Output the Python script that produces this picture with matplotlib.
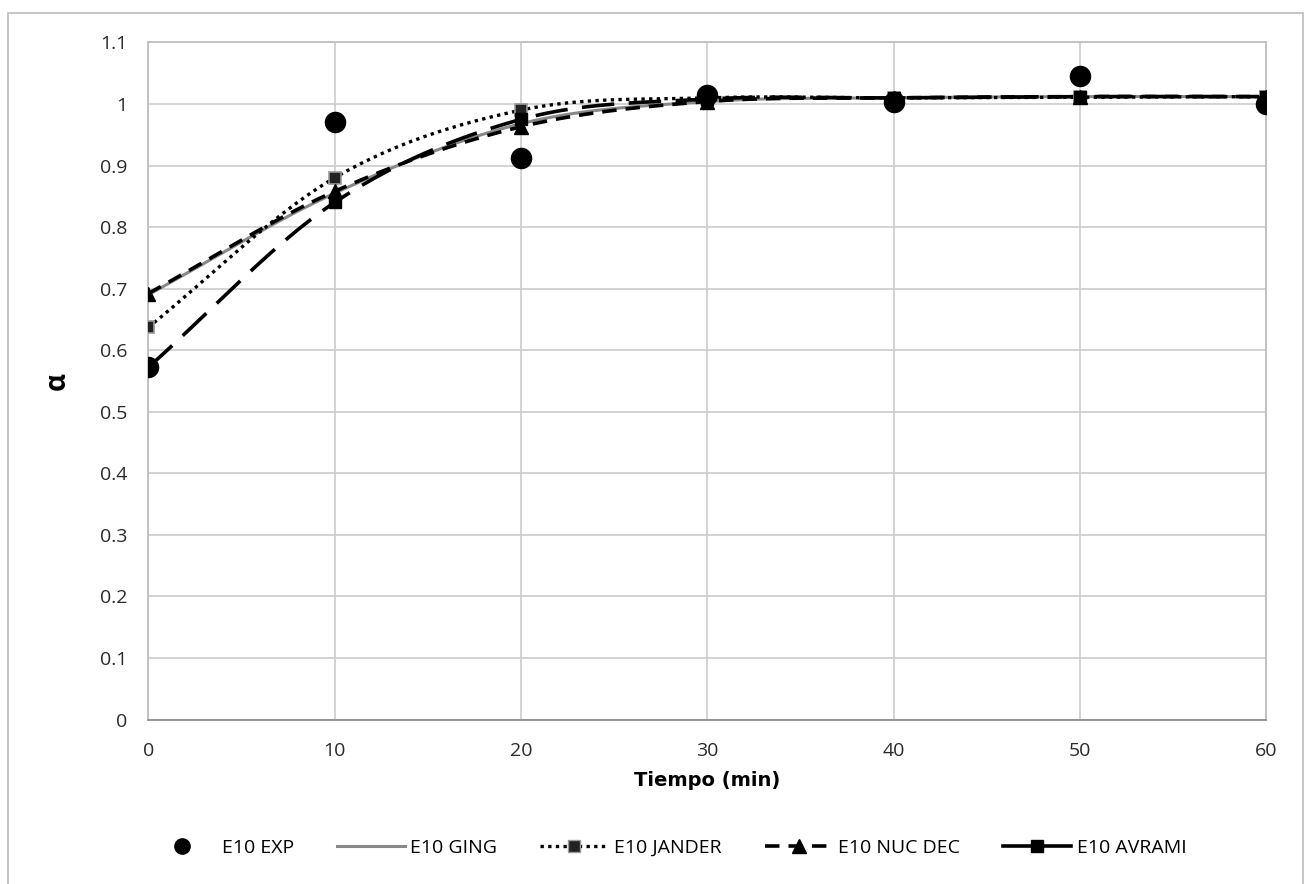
import numpy as np
import matplotlib.pyplot as plt
from matplotlib.patches import Rectangle
from matplotlib.lines import Line2D

plt.rcParams['font.family'] = ['Open Sans', 'DejaVu Sans']

# datos
tiempo = [0, 10, 20, 30, 40, 50, 60]
e10_exp = [0.572, 0.970, 0.912, 1.015, 1.003, 1.045, 1.000]
e10_ging = [0.690, 0.855, 0.968, 1.004, 1.010, 1.012, 1.012]
e10_jander = [0.637, 0.880, 0.990, 1.010, 1.010, 1.011, 1.012]
e10_nucdec = [0.692, 0.858, 0.963, 1.004, 1.010, 1.012, 1.012]
e10_avrami = [0.572, 0.840, 0.975, 1.008, 1.010, 1.012, 1.012]


def suave(x, y, n=30):
    # curva suavizada tipo Excel (Catmull-Rom) entre los puntos
    x = np.asarray(x, float)
    y = np.asarray(y, float)
    px = np.concatenate([[2 * x[0] - x[1]], x, [2 * x[-1] - x[-2]]])
    py = np.concatenate([[2 * y[0] - y[1]], y, [2 * y[-1] - y[-2]]])
    xs, ys = [], []
    t = np.linspace(0, 1, n)
    for i in range(1, len(px) - 2):
        for p, out in ((px, xs), (py, ys)):
            p0, p1, p2, p3 = p[i - 1], p[i], p[i + 1], p[i + 2]
            out.extend(0.5 * (2 * p1 + (-p0 + p2) * t
                              + (2 * p0 - 5 * p1 + 4 * p2 - p3) * t ** 2
                              + (-p0 + 3 * p1 - 3 * p2 + p3) * t ** 3))
    return xs, ys


fig = plt.figure(figsize=(13.11, 8.84), dpi=100)
fig.patches.append(Rectangle((0.006, -0.02), 0.988, 1.005, transform=fig.transFigure,
                             fill=False, edgecolor='#bbbbbb', linewidth=1.2))
ax = fig.add_axes([0.113, 0.186, 0.853, 0.766])

estilo_pt = (0, (1, 1.3))
estilo_nuc = (0, (4, 2.5))
estilo_avr = (0, (9, 4))

# GING
sx, sy = suave(tiempo, e10_ging)
ax.plot(sx, sy, color='#888888', lw=2.2, zorder=2)

# JANDER
sx, sy = suave(tiempo, e10_jander)
ax.plot(sx, sy, color='black', lw=2.4, ls=estilo_pt, zorder=3)
ax.plot(tiempo, e10_jander, ls='none', marker='s', ms=9, mfc='#222222',
        mec='#999999', mew=1.2, zorder=4)

# NUC DEC
sx, sy = suave(tiempo, e10_nucdec)
ax.plot(sx, sy, color='black', lw=2.6, ls=estilo_nuc, zorder=3)
ax.plot(tiempo, e10_nucdec, ls='none', marker='^', ms=10, color='black', zorder=4)

# AVRAMI
sx, sy = suave(tiempo, e10_avrami)
ax.plot(sx, sy, color='black', lw=2.6, ls=estilo_avr, zorder=3)
ax.plot(tiempo, e10_avrami, ls='none', marker='s', ms=9, color='black', zorder=4)

# EXP
ax.scatter(tiempo, e10_exp, s=210, color='black', zorder=5)

ax.set_xlim(0, 60)
ax.set_ylim(0, 1.1)
ax.set_xticks(range(0, 61, 10))
ax.set_yticks(np.arange(0, 1.11, 0.1))
ax.set_yticklabels(['0', '0.1', '0.2', '0.3', '0.4', '0.5', '0.6', '0.7',
                    '0.8', '0.9', '1', '1.1'])
ax.grid(True, color='#cccccc', lw=1.2)
ax.set_axisbelow(True)
for s in ax.spines.values():
    s.set_color('#bbbbbb')
    s.set_linewidth(1.2)
ax.spines['bottom'].set_color('#888888')
ax.tick_params(length=0, labelsize=14, colors='#2a2a2a')
ax.tick_params(axis='y', pad=15)
ax.tick_params(axis='x', pad=16)

ax.set_xlabel('Tiempo (min)', fontsize=14, fontweight='bold', labelpad=8,
              family='DejaVu Sans')
ax.set_ylabel('α', fontsize=20, fontweight='bold', labelpad=20, rotation=90)

# leyenda
h = [Line2D([], [], ls='none', marker='o', ms=11, color='black'),
     Line2D([], [], color='#888888', lw=2.2),
     Line2D([], [], color='black', lw=2.4, ls=estilo_pt, marker='s', ms=9,
            mfc='#222222', mec='#999999'),
     Line2D([], [], color='black', lw=2.6, ls=estilo_nuc, marker='^', ms=10),
     Line2D([], [], color='black', lw=2.6, ls='-', marker='s', ms=9)]
etiquetas = ['E10 EXP', 'E10 GING', 'E10 JANDER', 'E10 NUC DEC', 'E10 AVRAMI']
fig.legend(h, etiquetas, loc='center', bbox_to_anchor=(0.509, 0.041), ncol=5,
           frameon=False, fontsize=14, handlelength=3.5, columnspacing=2.2,
           handletextpad=0.3)

plt.savefig('out.png', dpi=100)
